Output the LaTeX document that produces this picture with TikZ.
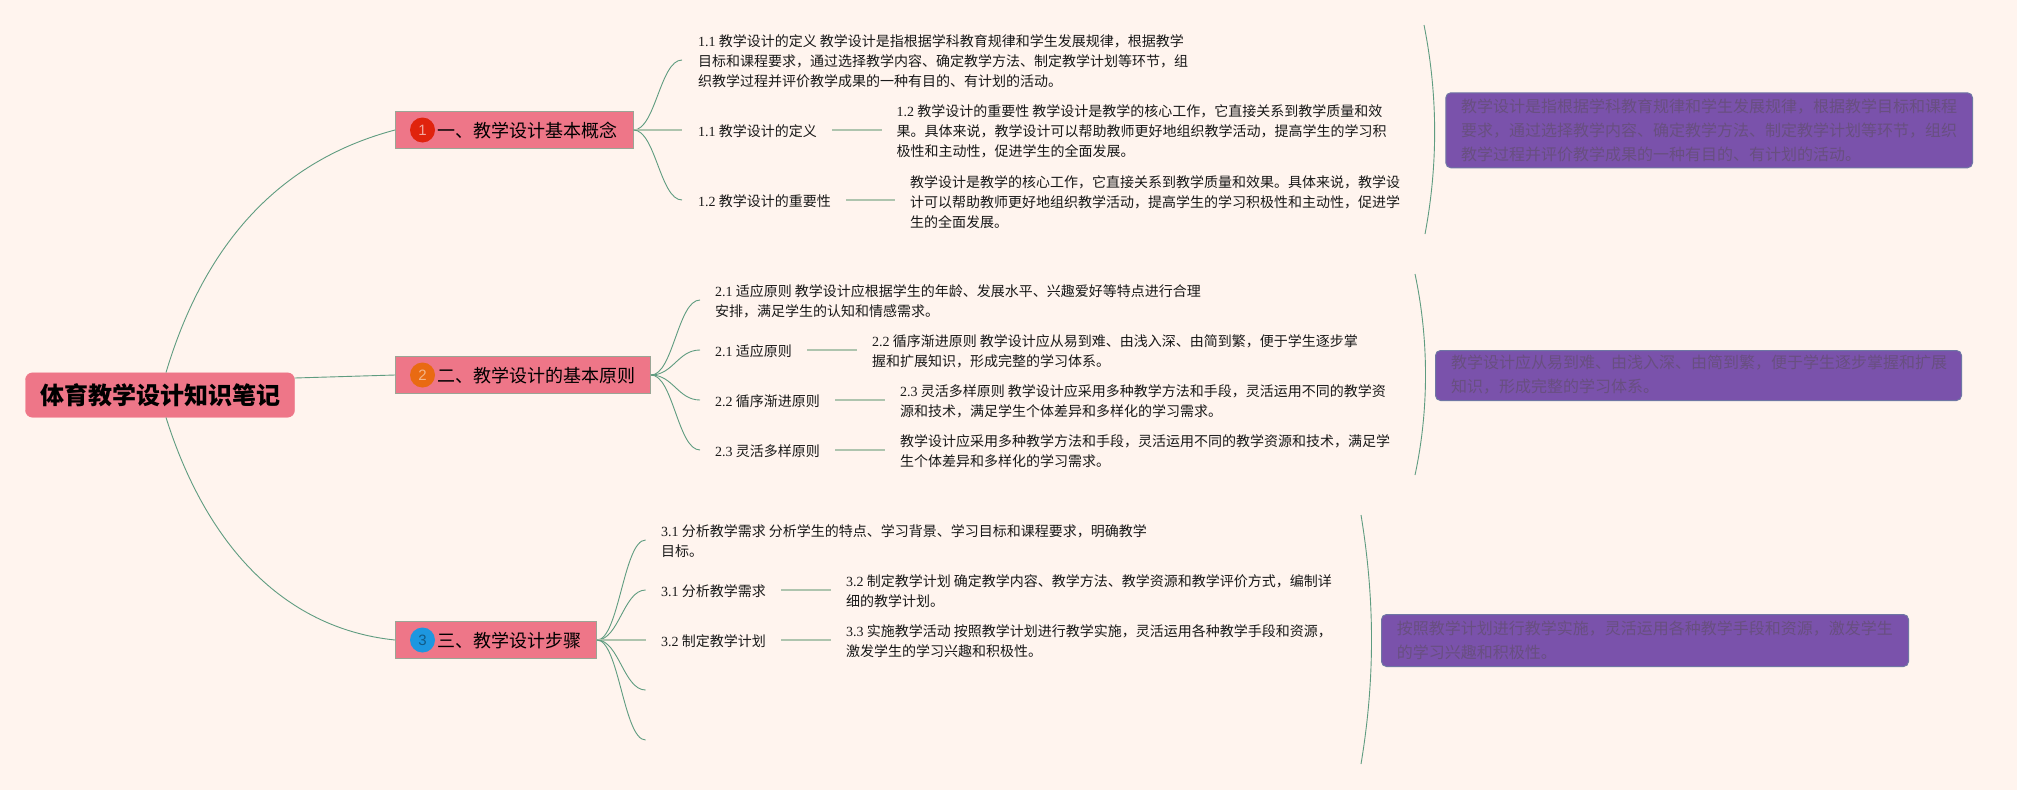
\documentclass[tikz,border=0pt]{standalone}
\usepackage{fontspec}
\usetikzlibrary{calc}
\setmainfont{Noto Sans CJK SC}
\newfontfamily\dg{Liberation Serif}
\newfontfamily\arl{Liberation Sans}
\definecolor{bgc}{HTML}{FFF4EE}
\definecolor{pinkc}{HTML}{EE7688}
\definecolor{edgec}{HTML}{5F9C80}
\definecolor{lightc}{HTML}{AEC4AE}
\definecolor{purplec}{HTML}{7A52AB}
\definecolor{purpled}{HTML}{684F80}
\definecolor{purpleb}{HTML}{6F76A4}
\definecolor{redb}{HTML}{E0230D}
\definecolor{orb}{HTML}{E96A12}
\definecolor{blb}{HTML}{1D97E0}
\definecolor{branchb}{HTML}{9AA595}
\tikzset{
  rootbox/.style={draw=pinkc,fill=pinkc,rounded corners=7pt,minimum width=269pt,minimum height=44.5pt,inner sep=0pt,font=\fontsize{24}{28}\selectfont\bfseries},
  branchbox/.style={draw=branchb,line width=1pt,fill=pinkc,minimum height=36.5pt,inner sep=0pt,anchor=west},
  btext/.style={font=\fontsize{18}{22}\selectfont,inner sep=0pt,anchor=west},
  badge/.style={circle,minimum size=25pt,inner sep=0pt,font=\arl\fontsize{15}{15}\selectfont},
  body/.style={font=\fontsize{14}{20}\selectfont,align=left,inner sep=0pt,anchor=west,text=black!90},
  note/.style={draw=purpleb,fill=purplec,rounded corners=5pt,line width=1pt,inner sep=0pt,anchor=north west},
  notetext/.style={font=\fontsize{16}{24}\selectfont,align=left,inner sep=0pt,anchor=west,text=purpled},
  curve/.style={draw=edgec,line width=.9pt},
  short/.style={draw=lightc,line width=2pt,shorten <=15pt,shorten >=15pt},
}
\newcommand{\fan}[2]{\draw[curve] (#1) .. controls ($(#1)!.45!(#1 -| #2)$) and ($(#2)!.45!(#1 |- #2)$) .. (#2);}
\newcommand{\shortlink}[2]{\draw[short] (#1.east) -- (#1.east -| #2.west);}
\begin{document}
\begin{tikzpicture}[x=1pt,y=-1pt]
\useasboundingbox[fill=bgc] (0,0) rectangle (2017,790);
% root
\node[rootbox] (root) at (160,395) {体育教学设计知识笔记};
% branches
\node[branchbox,minimum width=237.6pt] (b1) at (395,130) {};
\node[branchbox,minimum width=255pt] (b2) at (395,375) {};
\node[branchbox,minimum width=201pt] (b3) at (395,640) {};
\node[badge,fill=redb,text=white!60!redb] (c1) at (422.5,130) {1};
\node[badge,fill=orb,text=white!50!orb] (c2) at (422.5,375) {2};
\node[badge,fill=blb,text=black!40!blb] (c3) at (422.5,640) {3};
\node[btext] (t1) at (437.5,130.5) {一、教学设计基本概念};
\node[btext] (t2) at (437.5,375.5) {二、教学设计的基本原则};
\node[btext] (t3) at (437.5,640.5) {三、教学设计步骤};
% root links
\draw[curve] ([xshift=6pt]root.north) .. controls (205.3,241) and (281.7,160) .. (b1.west);
\draw[curve] ([yshift=17pt]root.east) -- (b2.west);
\draw[curve] ([xshift=6pt]root.south) .. controls (205.3,542.3) and (281.7,628.3) .. (b3.west);
% group 1
\coordinate (e11) at (682,60);
\coordinate (e12) at (682,130);
\coordinate (e13) at (682,200);
\fan{b1.east}{e11}
\draw[short,shorten <=0pt,shorten >=0pt] (b1.east) -- (e12);
\fan{b1.east}{e13}
\node[body] (n11) at (698,61.2) {{\dg 1.1} 教学设计的定义 教学设计是指根据学科教育规律和学生发展规律，根据教学\\目标和课程要求，通过选择教学内容、确定教学方法、制定教学计划等环节，组\\织教学过程并评价教学成果的一种有目的、有计划的活动。};
\node[body] (n12) at (698,131) {{\dg 1.1} 教学设计的定义};
\node[body] (n13) at (698,201) {{\dg 1.2} 教学设计的重要性};
\node[body] (d12) at (896.5,131.7) {{\dg 1.2} 教学设计的重要性 教学设计是教学的核心工作，它直接关系到教学质量和效\\果。具体来说，教学设计可以帮助教师更好地组织教学活动，提高学生的学习积\\极性和主动性，促进学生的全面发展。};
\node[body] (d13) at (910,201.7) {教学设计是教学的核心工作，它直接关系到教学质量和效果。具体来说，教学设\\计可以帮助教师更好地组织教学活动，提高学生的学习积极性和主动性，促进学\\生的全面发展。};
\draw[short] (n12.east |- e12) -- (e12 -| d12.west);
\draw[short] (n13.east |- e13) -- (e13 -| d13.west);
\coordinate (k1a) at (1424,25);
\coordinate (k1b) at (1425,234);
\draw[curve] (k1a) .. controls (1438,95) and (1438,165) .. (k1b);
\node[note,minimum width=526.7pt,minimum height=75pt] (p1) at (1445.3,92.3) {};
\node[notetext] (q1) at (1461,130.7) {教学设计是指根据学科教育规律和学生发展规律，根据教学目标和课程\\要求，通过选择教学内容、确定教学方法、制定教学计划等环节，组织\\教学过程并评价教学成果的一种有目的、有计划的活动。};
% group 2
\coordinate (e21) at (700,300);
\coordinate (e22) at (700,350);
\coordinate (e23) at (700,400);
\coordinate (e24) at (700,450);
\fan{b2.east}{e21}
\fan{b2.east}{e22}
\fan{b2.east}{e23}
\fan{b2.east}{e24}
\node[body] (n21) at (715,301) {{\dg 2.1} 适应原则 教学设计应根据学生的年龄、发展水平、兴趣爱好等特点进行合理\\安排，满足学生的认知和情感需求。};
\node[body] (n22) at (715,351) {{\dg 2.1} 适应原则};
\node[body] (n23) at (715,401) {{\dg 2.2} 循序渐进原则};
\node[body] (n24) at (715,451) {{\dg 2.3} 灵活多样原则};
\node[body] (d22) at (872,351) {{\dg 2.2} 循序渐进原则 教学设计应从易到难、由浅入深、由简到繁，便于学生逐步掌\\握和扩展知识，形成完整的学习体系。};
\node[body] (d23) at (900,401) {{\dg 2.3} 灵活多样原则 教学设计应采用多种教学方法和手段，灵活运用不同的教学资\\源和技术，满足学生个体差异和多样化的学习需求。};
\node[body] (d24) at (900,451) {教学设计应采用多种教学方法和手段，灵活运用不同的教学资源和技术，满足学\\生个体差异和多样化的学习需求。};
\draw[short] (n22.east |- e22) -- (e22 -| d22.west);
\draw[short] (n23.east |- e23) -- (e23 -| d23.west);
\draw[short] (n24.east |- e24) -- (e24 -| d24.west);
\coordinate (k2a) at (1415,274);
\coordinate (k2b) at (1415,475);
\draw[curve] (k2a) .. controls (1429,340) and (1429,410) .. (k2b);
\node[note,minimum width=526pt,minimum height=50pt] (p2) at (1435,350) {};
\node[notetext] (q2) at (1451,375) {教学设计应从易到难、由浅入深、由简到繁，便于学生逐步掌握和扩展\\知识，形成完整的学习体系。};
% group 3
\coordinate (e31) at (645.6,540);
\coordinate (e32) at (645.6,590);
\coordinate (e33) at (645.6,640);
\coordinate (e34) at (645.6,690);
\coordinate (e35) at (645.6,740);
\fan{b3.east}{e31}
\fan{b3.east}{e32}
\draw[short,shorten <=0pt,shorten >=0pt] (b3.east) -- (e33);
\fan{b3.east}{e34}
\fan{b3.east}{e35}
\node[body] (n31) at (661,541.5) {{\dg 3.1} 分析教学需求 分析学生的特点、学习背景、学习目标和课程要求，明确教学\\目标。};
\node[body] (n32) at (661,591) {{\dg 3.1} 分析教学需求};
\node[body] (n33) at (661,641) {{\dg 3.2} 制定教学计划};
\node[body] (d32) at (846,591) {{\dg 3.2} 制定教学计划 确定教学内容、教学方法、教学资源和教学评价方式，编制详\\细的教学计划。};
\node[body] (d33) at (846,641) {{\dg 3.3} 实施教学活动 按照教学计划进行教学实施，灵活运用各种教学手段和资源，\\激发学生的学习兴趣和积极性。};
\draw[short] (n32.east |- e32) -- (e32 -| d32.west);
\draw[short] (n33.east |- e33) -- (e33 -| d33.west);
\coordinate (k3a) at (1361,515);
\coordinate (k3b) at (1361,764);
\draw[curve] (k3a) .. controls (1375,600) and (1375,680) .. (k3b);
\node[note,minimum width=527pt,minimum height=52pt] (p3) at (1381,614) {};
\node[notetext] (q3) at (1396.6,640) {按照教学计划进行教学实施，灵活运用各种教学手段和资源，激发学生\\的学习兴趣和积极性。};
\end{tikzpicture}
\end{document}
